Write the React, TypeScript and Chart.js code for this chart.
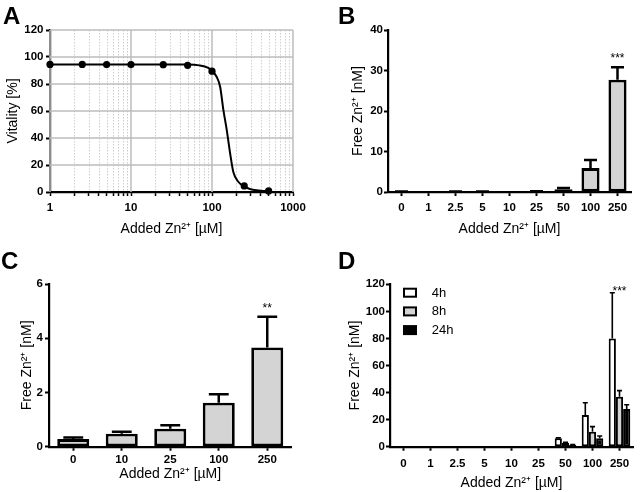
import React, { useEffect, useRef } from "react";
import { Chart, registerables } from "chart.js";
Chart.register(...registerables);

const FONT = "'Liberation Sans', Arial, Helvetica, sans-serif";

// ---------- Panel A: vitality vs added Zn ----------
const aDoses = [1, 2.5, 5, 10, 25, 50, 100, 250, 500];
const aVitality = [94.5, 94.5, 94.4, 94.4, 94.3, 93.8, 89.5, 4.5, 0.8];
const aFitDoses = [1, 50, 70, 90, 100, 114, 126, 138, 152, 167, 183, 211, 255, 300, 400, 500];
const aFitVitality = [94.5, 94.4, 93.8, 92, 90, 85.4, 78, 61, 46, 29, 15, 7.6, 4, 2, 0.9, 0.6];
const aXTicks = [1, 2, 3, 4, 5, 6, 7, 8, 9, 10, 20, 30, 40, 50, 60, 70, 80, 90, 100, 200, 300, 400, 500, 600, 700, 800, 900, 1000];
const aXLabelled = [1, 10, 100, 1000];

// ---------- Panel B: free Zn (24h) ----------
const bCategories = ["0", "1", "2.5", "5", "10", "25", "50", "100", "250"];
const bValues = [0.1, 0, 0.1, 0.1, 0.05, 0.15, 0.7, 5.9, 27.7];
const bErrors = [0.05, 0, 0.05, 0.05, 0, 0.05, 0.3, 2.0, 3.1];
const bStars = ["", "", "", "", "", "", "", "", "***"];

// ---------- Panel C ----------
const cCategories = ["0", "10", "25", "100", "250"];
const cValues = [0.28, 0.48, 0.66, 1.62, 3.66];
const cErrors = [0.06, 0.07, 0.13, 0.31, 1.13];
const cStars = ["", "", "", "", "**"];

// ---------- Panel D ----------
const dCategories = ["0", "1", "2.5", "5", "10", "25", "50", "100", "250"];
const dSeriesLabels = ["4h", "8h", "24h"];
const d4h = [0, 0, 0.5, 0, 0, 0.5, 6.2, 23.4, 80];
const d4hErr = [0, 0, 0, 0, 0, 0, 0.3, 9.1, 33.8];
const d8h = [0, 0, 0.5, 0.4, 0, 0.2, 3, 11.1, 37];
const d8hErr = [0, 0, 0, 0, 0, 0, 0.3, 3.7, 4.4];
const d24h = [0, 0, 0.3, 0.4, 0, 0, 1.3, 6.2, 27.9];
const d24hErr = [0, 0, 0, 0, 0, 0, 0.2, 1.7, 3.1];
const dStars = ["", "", "", "", "", "", "", "", "***"];

const tickFont = { family: FONT, size: 11.5, weight: "bold" as const };
const titleFont = { family: FONT, size: 14 };
const X_TITLE = "Added Zn²⁺ [µM]";

function errorBarPlugin(errors: number[][], lw: number, capRatio: number) {
  return {
    id: "errorBars",
    afterDatasetsDraw(chart: any) {
      const ctx = chart.ctx;
      const y = chart.scales.y;
      chart.data.datasets.forEach((ds: any, di: number) => {
        const errs = errors[di];
        if (!errs) return;
        const meta = chart.getDatasetMeta(di);
        meta.data.forEach((bar: any, i: number) => {
          const e = errs[i];
          if (!e) return;
          const v = ds.data[i] as number;
          const top = y.getPixelForValue(v + e);
          const x = bar.x;
          const half = (bar.width * capRatio) / 2;
          ctx.save();
          ctx.strokeStyle = "#000";
          ctx.lineWidth = lw;
          ctx.beginPath();
          ctx.moveTo(x, bar.y);
          ctx.lineTo(x, top);
          ctx.moveTo(x - half, top);
          ctx.lineTo(x + half, top);
          ctx.stroke();
          ctx.restore();
        });
      });
    },
  };
}

function starsPlugin(labels: string[], errors: number[][], offset: number) {
  return {
    id: "stars",
    afterDatasetsDraw(chart: any) {
      const ctx = chart.ctx;
      const xs = chart.scales.x;
      const ys = chart.scales.y;
      labels.forEach((lab, i) => {
        if (!lab) return;
        let maxV = 0;
        chart.data.datasets.forEach((ds: any, di: number) => {
          const v = (ds.data[i] as number) + ((errors[di] && errors[di][i]) || 0);
          if (v > maxV) maxV = v;
        });
        const px = xs.getPixelForValue(i);
        const py = ys.getPixelForValue(maxV) - offset;
        ctx.save();
        ctx.fillStyle = "#000";
        ctx.font = `12px ${FONT}`;
        ctx.textAlign = "center";
        ctx.textBaseline = "alphabetic";
        ctx.fillText(lab, px, py);
        ctx.restore();
      });
    },
  };
}

const aGridPlugin = {
  id: "aGrid",
  beforeDatasetsDraw(chart: any) {
    const { ctx, chartArea } = chart;
    const { left, right, top, bottom } = chartArea;
    const x = chart.scales.x;
    const y = chart.scales.y;
    ctx.save();
    ctx.lineWidth = 1;
    ctx.strokeStyle = "#cfcfcf";
    ctx.setLineDash([1.5, 1.5]);
    x.ticks.forEach((t: any) => {
      if (aXLabelled.includes(t.value)) return;
      const px = Math.round(x.getPixelForValue(t.value)) + 0.5;
      ctx.beginPath();
      ctx.moveTo(px, top);
      ctx.lineTo(px, bottom);
      ctx.stroke();
    });
    ctx.setLineDash([]);
    ctx.strokeStyle = "#bdbdbd";
    ctx.lineWidth = 1.5;
    x.ticks.forEach((t: any) => {
      if (!aXLabelled.includes(t.value)) return;
      const px = x.getPixelForValue(t.value);
      ctx.beginPath();
      ctx.moveTo(px, top);
      ctx.lineTo(px, bottom);
      ctx.stroke();
    });
    y.ticks.forEach((t: any) => {
      if (t.value === 0) return;
      const py = y.getPixelForValue(t.value);
      ctx.beginPath();
      ctx.moveTo(left, py);
      ctx.lineTo(right, py);
      ctx.stroke();
    });
    ctx.restore();
  },
};

const dLegendPlugin = {
  id: "dLegend",
  afterDraw(chart: any) {
    const { ctx, chartArea } = chart;
    chart.data.datasets.forEach((ds: any, i: number) => {
      const bx = chartArea.left + 14;
      const by = chartArea.top + 4.4 + i * 18.7;
      ctx.save();
      ctx.fillStyle = ds.backgroundColor;
      ctx.fillRect(bx, by, 12, 8);
      ctx.strokeStyle = "#000";
      ctx.lineWidth = 2;
      ctx.strokeRect(bx, by, 12, 8);
      ctx.fillStyle = "#000";
      ctx.font = `13px ${FONT}`;
      ctx.textBaseline = "middle";
      ctx.textAlign = "left";
      ctx.fillText(ds.label, chartArea.left + 41.7, by + 4.5);
      ctx.restore();
    });
  },
};

function yAxis(opts: {
  max: number;
  step: number;
  title: string;
  width: number;
  titlePad: number;
  tickPad: number;
}) {
  return {
    min: 0,
    max: opts.max,
    ticks: { stepSize: opts.step, color: "#000", font: tickFont, padding: opts.tickPad },
    grid: { drawOnChartArea: false, drawTicks: true, tickLength: 4, tickColor: "#000", tickWidth: 2 },
    border: { color: "#000", width: 2.2 },
    title: {
      display: true,
      text: opts.title,
      color: "#000",
      font: titleFont,
      padding: { top: opts.titlePad, bottom: 0 },
    },
    afterFit: (s: any) => {
      s.width = opts.width;
    },
  };
}

function xCatAxis(opts: { height: number; titlePad: number; tickPad: number }) {
  return {
    ticks: { color: "#000", font: tickFont, padding: opts.tickPad, maxRotation: 0, autoSkip: false },
    grid: { offset: false, drawOnChartArea: false, drawTicks: true, tickLength: 4, tickColor: "#000", tickWidth: 2 },
    border: { color: "#000", width: 2.2 },
    title: {
      display: true,
      text: X_TITLE,
      color: "#000",
      font: titleFont,
      padding: { top: 0, bottom: opts.titlePad },
    },
    afterFit: (s: any) => {
      s.height = opts.height;
    },
  };
}

function configA(): any {
  return {
    type: "line",
    data: {
      datasets: [
        {
          label: "fit",
          data: aFitDoses.map((d, i) => ({ x: d, y: aFitVitality[i] })),
          borderColor: "#000",
          borderWidth: 2,
          pointRadius: 0,
          cubicInterpolationMode: "monotone",
          fill: false,
        },
        {
          label: "Vitality",
          data: aDoses.map((d, i) => ({ x: d, y: aVitality[i] })),
          showLine: false,
          pointRadius: 3.6,
          pointBackgroundColor: "#000",
          pointBorderWidth: 0,
          clip: false,
        },
      ],
    },
    options: {
      responsive: false,
      animation: false,
      devicePixelRatio: 1,
      events: [],
      layout: { padding: { left: 0, right: 27, top: 30, bottom: 0 } },
      plugins: { legend: { display: false }, tooltip: { enabled: false } },
      scales: {
        x: {
          type: "logarithmic",
          min: 1,
          max: 1000,
          afterBuildTicks: (s: any) => {
            s.ticks = aXTicks.map((v) => ({ value: v }));
          },
          ticks: {
            autoSkip: false,
            maxRotation: 0,
            color: "#000",
            font: tickFont,
            padding: 5,
            callback: (v: any) => (aXLabelled.includes(Number(v)) ? String(v) : ""),
          },
          grid: { drawOnChartArea: false, drawTicks: true, tickLength: 4, tickColor: "#000", tickWidth: 1.5 },
          border: { color: "#000", width: 2.2 },
          title: {
            display: true,
            text: X_TITLE,
            color: "#000",
            font: titleFont,
            padding: { top: 0, bottom: 7.6 },
          },
          afterFit: (s: any) => {
            s.height = 53;
          },
        },
        y: yAxis({ max: 120, step: 20, title: "Vitality [%]", width: 50, titlePad: 4.6, tickPad: 2.5 }),
      },
    },
    plugins: [aGridPlugin],
  };
}

function configB(): any {
  return {
    type: "bar",
    data: {
      labels: bCategories,
      datasets: [
        {
          label: "Free Zn",
          data: bValues,
          backgroundColor: "#d4d4d4",
          borderColor: "#000",
          borderWidth: 2.8,
          borderSkipped: false,
          categoryPercentage: 1,
          barPercentage: 0.67,
        },
      ],
    },
    options: {
      responsive: false,
      animation: false,
      devicePixelRatio: 1,
      events: [],
      layout: { padding: { left: 0, right: 9, top: 30, bottom: 0 } },
      plugins: { legend: { display: false }, tooltip: { enabled: false } },
      scales: {
        x: xCatAxis({ height: 53, titlePad: 7.6, tickPad: 5 }),
        y: yAxis({ max: 40, step: 10, title: "Free Zn²⁺ [nM]", width: 68, titlePad: 29.6, tickPad: 1 }),
      },
    },
    plugins: [errorBarPlugin([bErrors], 2.5, 0.72), starsPlugin(bStars, [bErrors], 5)],
  };
}

function configC(): any {
  return {
    type: "bar",
    data: {
      labels: cCategories,
      datasets: [
        {
          label: "Free Zn",
          data: cValues,
          backgroundColor: "#d4d4d4",
          borderColor: "#000",
          borderWidth: 2.8,
          borderSkipped: false,
          categoryPercentage: 1,
          barPercentage: 0.66,
        },
      ],
    },
    options: {
      responsive: false,
      animation: false,
      devicePixelRatio: 1,
      events: [],
      layout: { padding: { left: 0, right: 28.5, top: 39, bottom: 0 } },
      plugins: { legend: { display: false }, tooltip: { enabled: false } },
      scales: {
        x: xCatAxis({ height: 45.3, titlePad: 9.6, tickPad: 2 }),
        y: yAxis({ max: 6, step: 2, title: "Free Zn²⁺ [nM]", width: 49, titlePad: 18.6, tickPad: 2 }),
      },
    },
    plugins: [errorBarPlugin([cErrors], 2.5, 0.62), starsPlugin(cStars, [cErrors], 5)],
  };
}

function configD(): any {
  const base = { borderColor: "#000", borderWidth: 2, borderSkipped: false, categoryPercentage: 0.8, barPercentage: 1 };
  return {
    type: "bar",
    data: {
      labels: dCategories,
      datasets: [
        { ...base, label: dSeriesLabels[0], data: d4h, backgroundColor: "#ffffff" },
        { ...base, label: dSeriesLabels[1], data: d8h, backgroundColor: "#d4d4d4" },
        { ...base, label: dSeriesLabels[2], data: d24h, backgroundColor: "#000000" },
      ],
    },
    options: {
      responsive: false,
      animation: false,
      devicePixelRatio: 1,
      events: [],
      layout: { padding: { left: 0, right: 7, top: 39.3, bottom: 0 } },
      plugins: { legend: { display: false }, tooltip: { enabled: false } },
      scales: {
        x: xCatAxis({ height: 45.3, titlePad: 0.6, tickPad: 6 }),
        y: yAxis({ max: 120, step: 20, title: "Free Zn²⁺ [nM]", width: 70, titlePad: 26.6, tickPad: 1 }),
      },
    },
    plugins: [
      errorBarPlugin([d4hErr, d8hErr, d24hErr], 1.6, 0.7),
      starsPlugin(dStars, [d4hErr, d8hErr, d24hErr], -2),
      dLegendPlugin,
    ],
  };
}

function Panel(props: { make: () => any; left: number; top: number; width: number; height: number }) {
  const ref = useRef<HTMLCanvasElement | null>(null);
  useEffect(() => {
    if (!ref.current) return;
    const chart = new Chart(ref.current, props.make());
    return () => chart.destroy();
  }, []);
  return (
    <canvas
      ref={ref}
      width={props.width}
      height={props.height}
      style={{ position: "absolute", left: props.left, top: props.top, width: props.width, height: props.height }}
    />
  );
}

const letterStyle = (left: number, top: number): React.CSSProperties => ({
  position: "absolute",
  left,
  top,
  font: `bold 24px ${FONT}`,
  lineHeight: "24px",
  color: "#000",
});

export default function App() {
  return (
    <div style={{ position: "absolute", left: 0, top: 0, width: 640, height: 492, background: "#fff", overflow: "hidden" }}>
      <Panel make={configA} left={0} top={0} width={320} height={245} />
      <Panel make={configB} left={320} top={0} width={320} height={245} />
      <Panel make={configC} left={0} top={245} width={320} height={247} />
      <Panel make={configD} left={320} top={245} width={320} height={247} />
      <div style={letterStyle(3, 4.2)}>A</div>
      <div style={letterStyle(338, 4.2)}>B</div>
      <div style={letterStyle(1, 248.6)}>C</div>
      <div style={letterStyle(338, 249)}>D</div>
    </div>
  );
}
